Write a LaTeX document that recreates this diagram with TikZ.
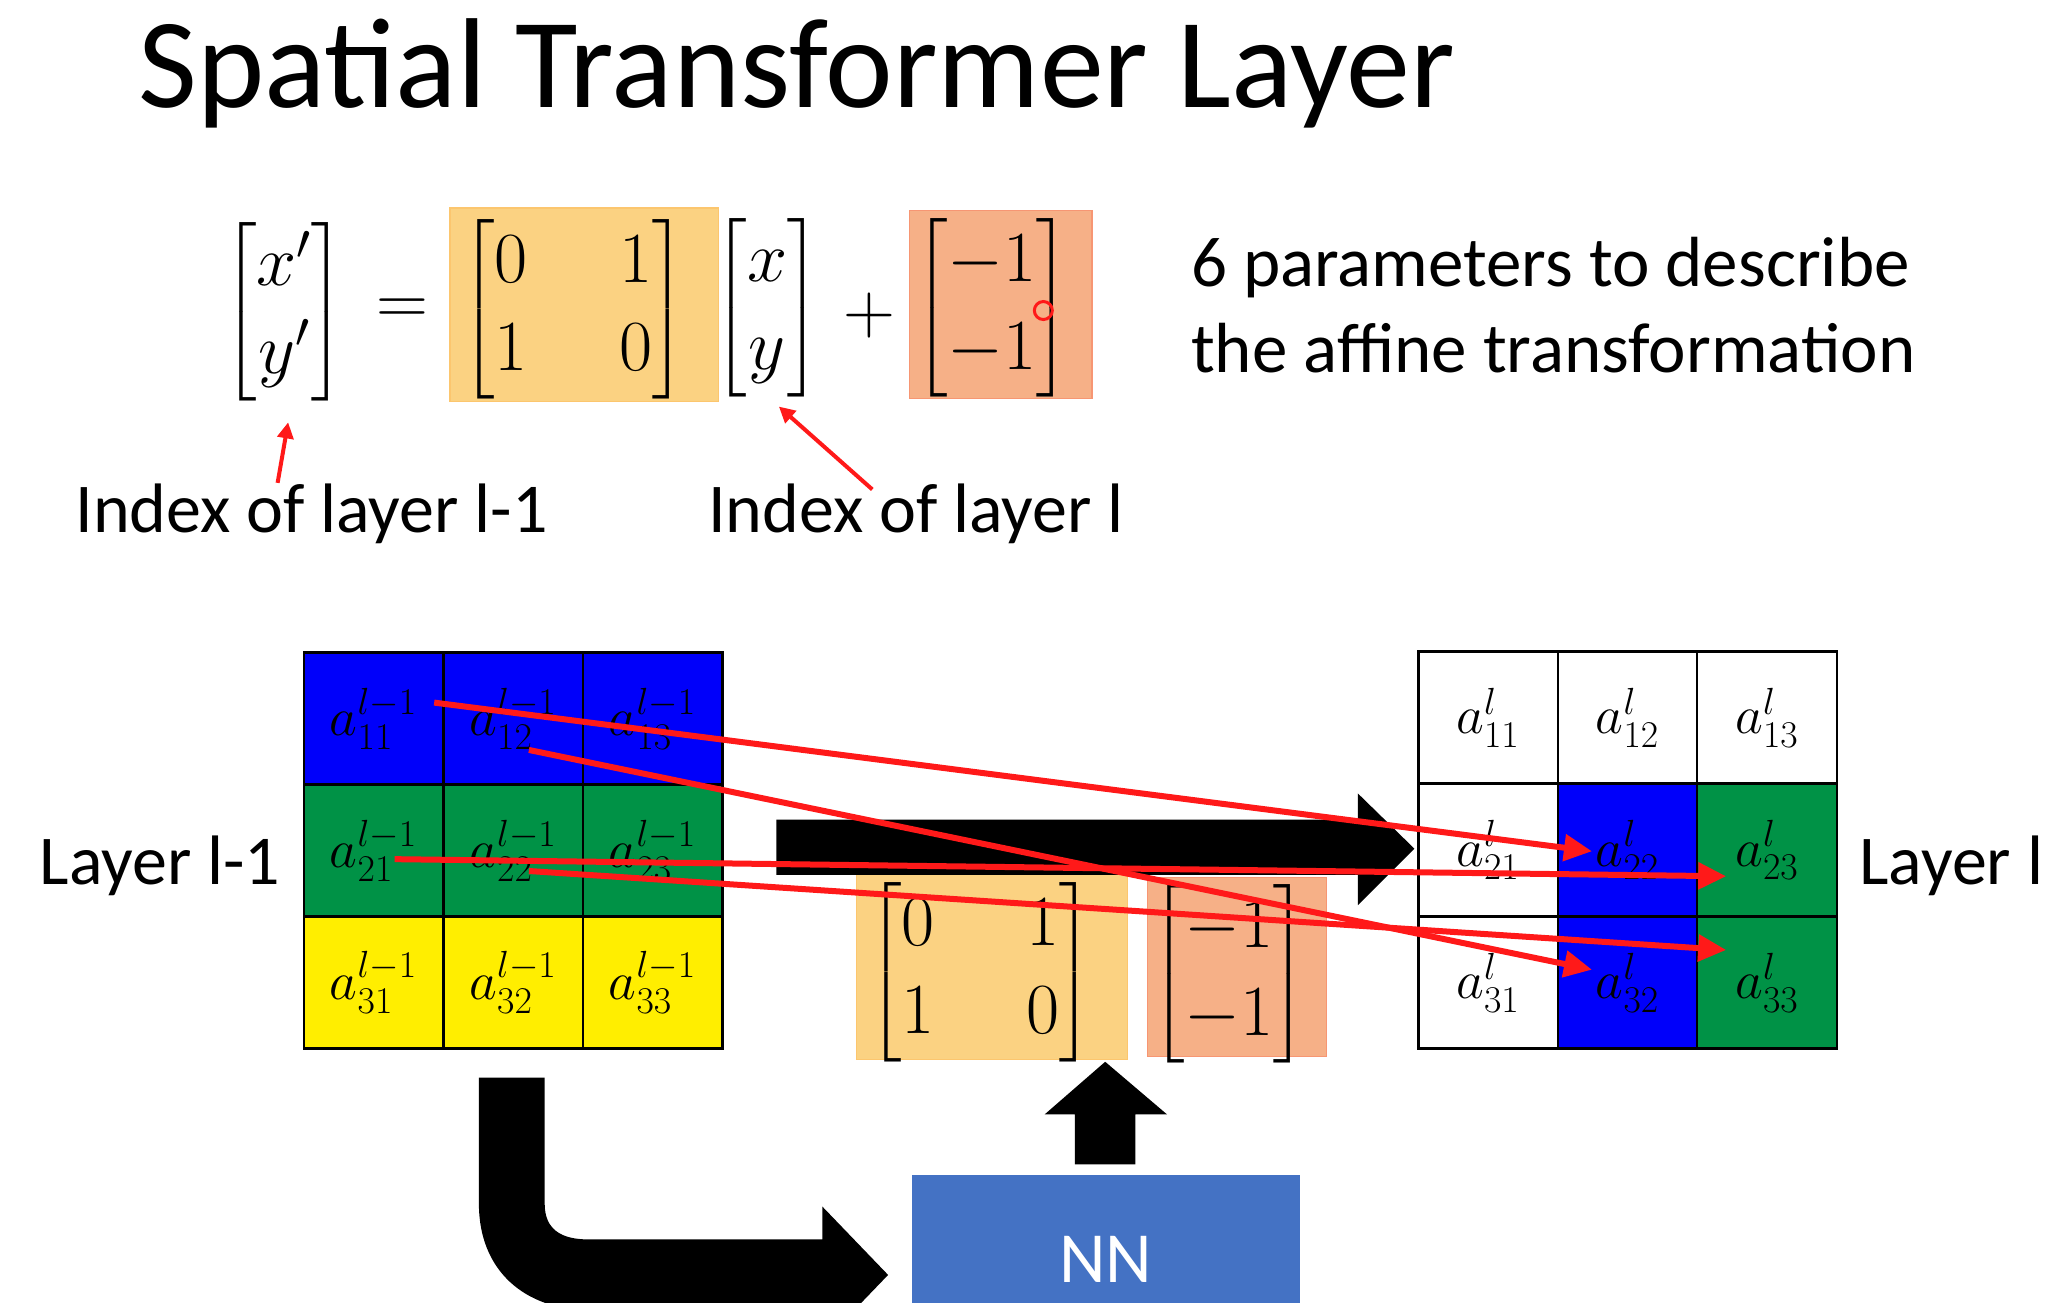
\RequirePackage{fix-cm}
\documentclass[tikz,border=0pt]{standalone}
\usepackage{amsmath}
\usepackage[no-math]{fontspec}
\setmainfont{Carlito}
\usetikzlibrary{arrows.meta}
\definecolor{gridblue}{RGB}{0,0,250}
\definecolor{gridgreen}{RGB}{0,146,70}
\definecolor{gridyellow}{RGB}{255,238,0}
\definecolor{boxorange}{RGB}{251,210,130}
\definecolor{boxsalmon}{RGB}{246,176,135}
\definecolor{nnblue}{RGB}{68,114,196}
\definecolor{arrowred}{RGB}{255,25,25}
\begin{document}
\begin{tikzpicture}[x=0.6579pt,y=-0.6579pt,
  txt/.style={font=\fontsize{35.5}{43}\selectfont, inner sep=0pt},
  lbl/.style={font=\fontsize{35}{42}\selectfont, inner sep=0pt, anchor=base west},
  eqm/.style={font=\fontsize{36}{44}\selectfont, inner sep=0pt},
  obox/.style={fill=boxorange, draw=boxorange!85!orange, line width=0.6pt, inner sep=0pt},
  sbox/.style={fill=boxsalmon, draw=boxsalmon!85!red, line width=0.6pt, inner sep=0pt},
  cell/.style={draw=black, line width=1.2pt, minimum width=69.74pt, minimum height=66.1pt, inner sep=0pt, font=\fontsize{27}{30}\selectfont},
  redarrow/.style={draw=arrowred, line width=3pt, -{Triangle[length=14pt,width=13pt]}},
  thinred/.style={draw=arrowred, line width=2pt, -{Triangle[length=8pt,width=8pt]}},
  bigarrow/.style={fill=black},
]
\useasboundingbox (0,0) rectangle (1568,990);
\clip (0,0) rectangle (1568,990);
\fill[white] (0,0) rectangle (1568,990);

% title
\node[anchor=base west, font=\fontsize{64}{70}\selectfont, inner sep=0pt] (title) at (105,82) {Spatial Transformer Layer};

% equation
\node[eqm] (lhs) at (216,237) {$\begin{bmatrix} x' \\ y' \end{bmatrix}$};
\node[eqm] (eqs) at (306,237) {$=$};
\node[obox, minimum width=134.2pt, minimum height=96.7pt] (Wt) at (444,231.5) {};
\node[eqm] (Wm) at (436,235) {\setlength{\arraycolsep}{23pt}$\begin{bmatrix}0&1\\1&0\end{bmatrix}$};
\node[eqm] (xy) at (583,234) {$\begin{bmatrix} x \\ y \end{bmatrix}$};
\node[eqm] (pl) at (661,240) {$+$};
\node[sbox, minimum width=91.4pt, minimum height=94.1pt] (bt) at (760.5,231.5) {};
\node[eqm] (bm) at (754,234) {$\begin{bmatrix}-1\\-1\end{bmatrix}$};
\node[draw=arrowred, line width=1.5pt, circle, minimum size=9pt, inner sep=0pt] (cur) at (793,236) {};

\node[txt, anchor=base west] (p1) at (905,218) {6 parameters to describe};
\node[txt, anchor=base west] (p2) at (905,283) {the affine transformation};

\node[lbl] (i1) at (57,405) {Index of layer l-1};
\node[lbl] (i2) at (538,405) {Index of layer l};
\coordinate (u1s) at (211,367);
\coordinate (u1e) at (219,321);
\coordinate (u2s) at (663,372);
\coordinate (u2e) at (592,309);
\draw[thinred] (u1s) -- (u1e);
\draw[thinred] (u2s) -- (u2e);

% left grid (layer l-1)
\node[cell, fill=gridblue]   (L11) at (284,546.2) {$a^{l-1}_{11}$};
\node[cell, fill=gridblue]   (L12) at (390,546.2) {$a^{l-1}_{12}$};
\node[cell, fill=gridblue]   (L13) at (496,546.2) {$a^{l-1}_{13}$};
\node[cell, fill=gridgreen]  (L21) at (284,646.5) {$a^{l-1}_{21}$};
\node[cell, fill=gridgreen]  (L22) at (390,646.5) {$a^{l-1}_{22}$};
\node[cell, fill=gridgreen]  (L23) at (496,646.5) {$a^{l-1}_{23}$};
\node[cell, fill=gridyellow] (L31) at (284,746.8) {$a^{l-1}_{31}$};
\node[cell, fill=gridyellow] (L32) at (390,746.8) {$a^{l-1}_{32}$};
\node[cell, fill=gridyellow] (L33) at (496,746.8) {$a^{l-1}_{33}$};
\node[lbl] (lay1) at (30,672) {Layer l-1};

% right grid (layer l)
\node[cell, fill=white]     (R11) at (1131,545.3) {$a^{l}_{11}$};
\node[cell, fill=white]     (R12) at (1237,545.3) {$a^{l}_{12}$};
\node[cell, fill=white]     (R13) at (1343,545.3) {$a^{l}_{13}$};
\node[cell, fill=white]     (R21) at (1131,646) {$a^{l}_{21}$};
\node[cell, fill=gridblue]  (R22) at (1237,646) {$a^{l}_{22}$};
\node[cell, fill=gridgreen] (R23) at (1343,646) {$a^{l}_{23}$};
\node[cell, fill=white]     (R31) at (1131,746.7) {$a^{l}_{31}$};
\node[cell, fill=gridblue]  (R32) at (1237,746.7) {$a^{l}_{32}$};
\node[cell, fill=gridgreen] (R33) at (1343,746.7) {$a^{l}_{33}$};
\node[lbl] (lay2) at (1413,672) {Layer l};

% lower parameter boxes
\node[obox, minimum width=135.5pt, minimum height=94.1pt] (Wb) at (754,733.5) {};
\node[eqm] (Wbm) at (745.5,739) {\setlength{\arraycolsep}{23pt}$\begin{bmatrix}0&1\\1&0\end{bmatrix}$};
\node[sbox, minimum width=89.5pt, minimum height=89.5pt] (bb) at (940,735) {};
\node[eqm] (bbm) at (934,740) {$\begin{bmatrix}-1\\-1\end{bmatrix}$};

% NN box
\node[fill=nnblue, minimum width=194.1pt, minimum height=84.2pt, inner sep=0pt, text=white, font=\fontsize{36}{43}\selectfont] (NN) at (840.5,957) {NN};

% big black arrows
\fill[bigarrow] (590,623) -- (1032,623) -- (1032,603) -- (1075,645) -- (1032,688) -- (1032,665) -- (590,665) -- cycle;
\fill[bigarrow] (817,885) -- (817,847) -- (794,847) -- (840,807) -- (887,847) -- (863,847) -- (863,885) -- cycle;
\fill[bigarrow] (364,819) -- (364,915) .. controls (364,965) and (398,996) .. (450,996) -- (625,996) -- (625,1021) -- (675,969) -- (625,917) -- (625,942) -- (447,942) .. controls (426,942) and (414,934) .. (414,915) -- (414,819) -- cycle;

% red mapping arrows
\coordinate (s1) at (330,534);
\coordinate (s2) at (402,570);
\coordinate (s3) at (300,653);
\coordinate (s4) at (402,662);
\coordinate (t1) at (1210,647);
\coordinate (t2) at (1210,737);
\coordinate (t3) at (1312,666);
\coordinate (t4) at (1312,722);
\draw[redarrow] (s1) -- (t1);
\draw[redarrow] (s2) -- (t2);
\draw[redarrow] (s3) -- (t3);
\draw[redarrow] (s4) -- (t4);
\end{tikzpicture}
\end{document}
